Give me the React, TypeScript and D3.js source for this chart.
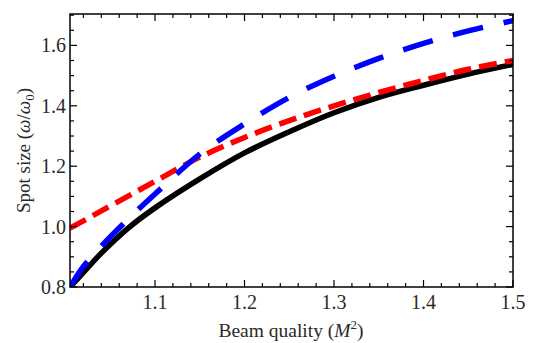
import { useEffect, useRef } from "react";
import * as d3 from "d3";

// M^2 sample points and spot size ratios
const mSquared = [1.005, 1.02, 1.04, 1.07, 1.1, 1.15, 1.2, 1.25, 1.3, 1.35, 1.4, 1.45, 1.5];
const blackSeries = [0.8, 0.848, 0.912, 0.995, 1.062, 1.158, 1.244, 1.314, 1.377, 1.428, 1.468, 1.505, 1.537];
const redSeries = [0.995, 1.019, 1.052, 1.101, 1.15, 1.23, 1.295, 1.351, 1.4, 1.444, 1.484, 1.521, 1.55];
const blueSeries = [0.8, 0.868, 0.935, 1.025, 1.108, 1.24, 1.34, 1.428, 1.498, 1.557, 1.607, 1.648, 1.682];

const xTicks = [1.1, 1.2, 1.3, 1.4, 1.5];
const yTicks = [0.8, 1.0, 1.2, 1.4, 1.6];

export default function App() {
  const svgRef = useRef<SVGSVGElement>(null);

  useEffect(() => {
    const W = 533, H = 343;
    const left = 70, right = 513, top = 14, bottom = 287;
    const svg = d3.select(svgRef.current);
    svg.selectAll("*").remove();
    svg.attr("width", W).attr("height", H).style("display", "block").style("background", "#fff");

    const x = d3.scaleLinear().domain([1.005, 1.5]).range([left, right]);
    const y = d3.scaleLinear().domain([0.8, 1.704]).range([bottom, top]);

    svg.append("clipPath").attr("id", "plotclip")
      .append("rect").attr("x", left).attr("y", top).attr("width", right - left).attr("height", bottom - top);

    const line = d3.line<[number, number]>()
      .x(d => x(d[0]))
      .y(d => y(d[1]))
      .curve(d3.curveCatmullRom.alpha(0.5));

    const g = svg.append("g").attr("clip-path", "url(#plotclip)");

    const series = [
      { vals: blackSeries, color: "#000", dash: null, w: 5.5 },
      { vals: redSeries, color: "#ff0000", dash: "18,8", w: 5.5 },
      { vals: blueSeries, color: "#0000ff", dash: "31,21", w: 5.5 },
    ];
    series.forEach(s => {
      const p = g.append("path")
        .datum(mSquared.map((m, i) => [m, s.vals[i]] as [number, number]))
        .attr("d", line)
        .attr("fill", "none")
        .attr("stroke", s.color)
        .attr("stroke-width", s.w);
      if (s.dash) p.attr("stroke-dasharray", s.dash);
    });

    // frame
    svg.append("rect")
      .attr("x", left).attr("y", top).attr("width", right - left).attr("height", bottom - top)
      .attr("fill", "none").attr("stroke", "#000").attr("stroke-width", 1.5);

    const tk = svg.append("g").attr("stroke", "#000").attr("stroke-width", 1.2);
    // x ticks (major every 0.1, minor every 0.02) on bottom and top
    d3.range(1.02, 1.5001, 0.02).forEach(v => {
      const major = Math.abs(v * 10 - Math.round(v * 10)) < 1e-6;
      const len = major ? 7 : 4;
      const px = x(v);
      tk.append("line").attr("x1", px).attr("x2", px).attr("y1", bottom).attr("y2", bottom - len);
      tk.append("line").attr("x1", px).attr("x2", px).attr("y1", top).attr("y2", top + len);
    });
    // y ticks (major every 0.2, minor every 0.05) on left and right
    d3.range(0.8, 1.7001, 0.05).forEach(v => {
      const major = Math.abs(v * 5 - Math.round(v * 5)) < 1e-6;
      const len = major ? 7 : 4;
      const py = y(v);
      tk.append("line").attr("x1", left).attr("x2", left + len).attr("y1", py).attr("y2", py);
      tk.append("line").attr("x1", right).attr("x2", right - len).attr("y1", py).attr("y2", py);
    });

    const font = "'Liberation Serif', 'Times New Roman', serif";
    svg.append("g").selectAll("text").data(xTicks).join("text")
      .attr("x", d => x(d)).attr("y", 309)
      .attr("text-anchor", "middle")
      .attr("font-family", font).attr("font-size", 20).attr("fill", "#2a2a2a")
      .text(d => d.toFixed(1));
    svg.append("g").selectAll("text").data(yTicks).join("text")
      .attr("x", 66).attr("y", d => y(d) + 7)
      .attr("text-anchor", "end")
      .attr("font-family", font).attr("font-size", 20).attr("fill", "#2a2a2a")
      .text(d => d.toFixed(1));

    // x axis label
    const xl = svg.append("text")
      .attr("x", 291).attr("y", 337).attr("text-anchor", "middle")
      .attr("font-family", font).attr("font-size", 19.5).attr("fill", "#2a2a2a");
    xl.append("tspan").text("Beam quality (");
    xl.append("tspan").attr("font-style", "italic").text("M");
    xl.append("tspan").attr("font-size", 13).attr("dy", -8).text("2");
    xl.append("tspan").attr("dy", 8).text(")");

    // y axis label
    const yl = svg.append("text")
      .attr("transform", `translate(30,${(top + bottom) / 2}) rotate(-90)`)
      .attr("text-anchor", "middle")
      .attr("font-family", font).attr("font-size", 19).attr("fill", "#2a2a2a");
    yl.append("tspan").text("Spot size (");
    yl.append("tspan").attr("font-style", "italic").text("ω");
    yl.append("tspan").text("/");
    yl.append("tspan").attr("font-style", "italic").text("ω");
    yl.append("tspan").attr("font-size", 13).attr("dy", 4).text("0");
    yl.append("tspan").attr("dy", -4).text(")");
  }, []);

  return (
    <div style={{ position: "fixed", left: 0, top: 0 }}>
      <svg ref={svgRef}></svg>
    </div>
  );
}
